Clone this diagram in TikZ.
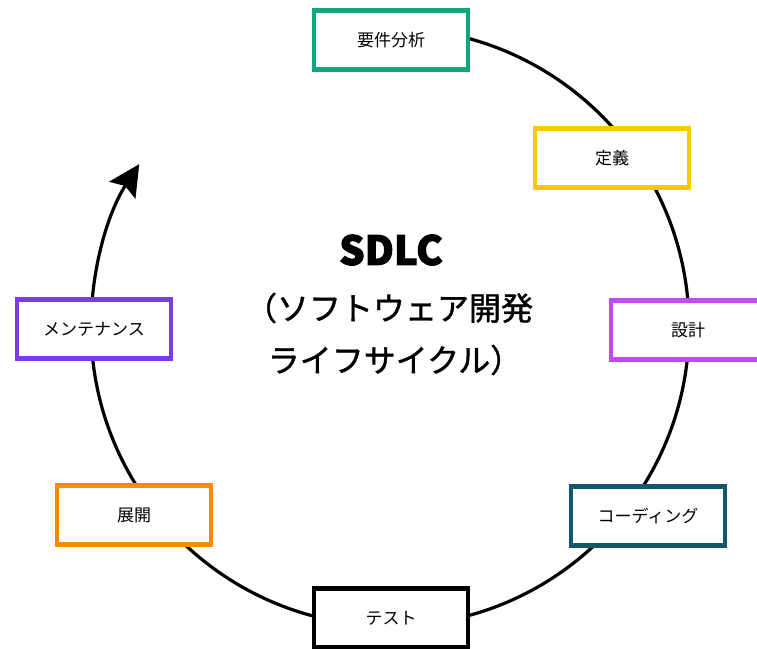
\documentclass[tikz,border=0pt]{standalone}
\usepackage{fontspec}
\setmainfont{Noto Sans CJK JP}
\newfontfamily\titlefont{Noto Sans CJK JP}[FakeBold=1.2]
\newfontfamily\sdlcfont{Noto Sans CJK JP}[BoldFeatures={FakeBold=2.5}]
\usetikzlibrary{arrows.meta}
\definecolor{cGreen}{HTML}{12A57E}
\definecolor{cYellow}{HTML}{FFC800}
\definecolor{cMagenta}{HTML}{C04BF5}
\definecolor{cTeal}{HTML}{14566A}
\definecolor{cOrange}{HTML}{FF8A00}
\definecolor{cPurple}{HTML}{7C3AED}
\begin{document}
\begin{tikzpicture}[x=1pt,y=1pt,
  stagebox/.style={draw, line width=4.5pt, fill=white, minimum width=154pt,
    minimum height=59pt, inner sep=0pt, font=\fontsize{17}{20}\selectfont},
  cyc/.style={line width=3.2pt},
  titletext/.style={inner sep=0pt, font=\titlefont\fontsize{32}{38}\selectfont}]
\useasboundingbox (0,0) rectangle (757,648);
\coordinate (c) at (390,321);
\draw[cyc, -{Stealth[length=31pt,width=31pt,inset=5pt]}]
  ([shift={(90:299)}]c) arc[start angle=90, end angle=-213, radius=299]
  coordinate (arrowend);
\node[stagebox, draw=cGreen]   (req)   at (391,608) {要件分析};
\node[stagebox, draw=cYellow]  (def)   at (612,490) {定義};
\node[stagebox, draw=cMagenta] (des)   at (688,318) {設計};
\node[stagebox, draw=cTeal]    (cod)   at (648,132) {コーディング};
\node[stagebox, draw=black]    (tst)   at (391,30)  {テスト};
\node[stagebox, draw=cOrange]  (dep)   at (134,133) {展開};
\node[stagebox, draw=cPurple]  (mnt)   at (94,319)  {メンテナンス};
\node[inner sep=0pt, font=\sdlcfont\fontsize{40}{44}\selectfont\bfseries] (t1) at (391,398) {SDLC};
\node[titletext] (t2) at (389,340) {（ソフトウェア開発};
\node[titletext] (t3) at (395,288) {ライフサイクル）};
\end{tikzpicture}
\end{document}
